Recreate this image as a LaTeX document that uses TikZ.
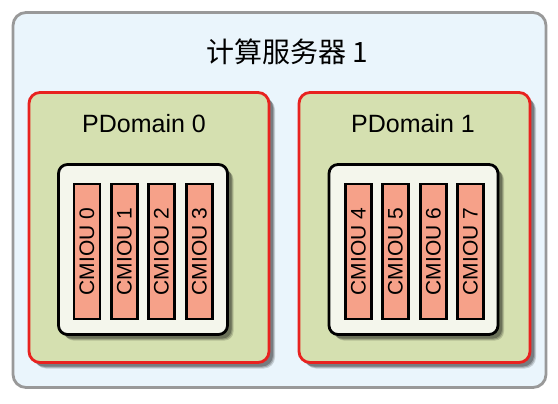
\documentclass[tikz,border=0pt]{standalone}
\usepackage{fontspec}
\setmainfont{Liberation Sans}
\newfontfamily\cjk{Noto Sans CJK SC}
\usetikzlibrary{shadows}
\definecolor{outerfill}{HTML}{EAF5FC}
\definecolor{outerline}{HTML}{999999}
\definecolor{pdfill}{HTML}{D5E0B0}
\definecolor{pdline}{HTML}{E8221F}
\definecolor{infill}{HTML}{F4F6EC}
\definecolor{barfill}{HTML}{F6A189}
\tikzset{
  softshadow/.style={
    drop shadow={shadow xshift=6pt, shadow yshift=-6pt, fill=black, opacity=0.15},
    drop shadow={shadow xshift=5pt, shadow yshift=-5pt, fill=black, opacity=0.2},
    drop shadow={shadow xshift=4pt, shadow yshift=-4pt, fill=black, opacity=0.25}},
  outerbox/.style={draw=outerline, line width=2.8pt, fill=outerfill, rounded corners=13pt, minimum width=533pt, minimum height=375pt},
  pdbox/.style={draw=pdline, line width=2.8pt, fill=pdfill, rounded corners=11pt, minimum height=270pt, softshadow},
  inbox/.style={draw=black, line width=2.8pt, fill=infill, rounded corners=9pt, minimum width=169pt, minimum height=170pt, softshadow},
  bar/.style={draw=black, line width=2.2pt, fill=barfill, minimum width=26pt, minimum height=135pt, inner sep=0pt},
  bartext/.style={font=\fontsize{21pt}{22pt}\selectfont, rotate=90},
  pdlabel/.style={font=\fontsize{25pt}{28pt}\selectfont},
}
\begin{document}
\begin{tikzpicture}[x=1pt,y=-1pt]
\useasboundingbox (0,0) rectangle (558,404);
\node[outerbox] (outer) at (279.5,200) {};
\node[font=\fontsize{28pt}{32pt}\selectfont] (title) at (287,52) {\cjk 计算服务器 1};
\node[pdbox, minimum width=240pt] (pd0) at (149,227.5) {};
\node[pdbox, minimum width=231pt] (pd1) at (414.5,227.5) {};
\node[pdlabel] (pd0l) at (144,124) {PDomain 0};
\node[pdlabel] (pd1l) at (413,124) {PDomain 1};
\node[inbox] (in0) at (143,249.5) {};
\node[inbox] (in1) at (413.5,249.5) {};
\foreach \i/\x in {0/87,1/124.5,2/161.5,3/199.5,4/358.5,5/395.5,6/433.5,7/470.5}{
  \node[bar] (c\i) at (\x,251.5) {};
  \node[bartext] (t\i) at (c\i) {CMIOU \i};
}
\end{tikzpicture}
\end{document}
